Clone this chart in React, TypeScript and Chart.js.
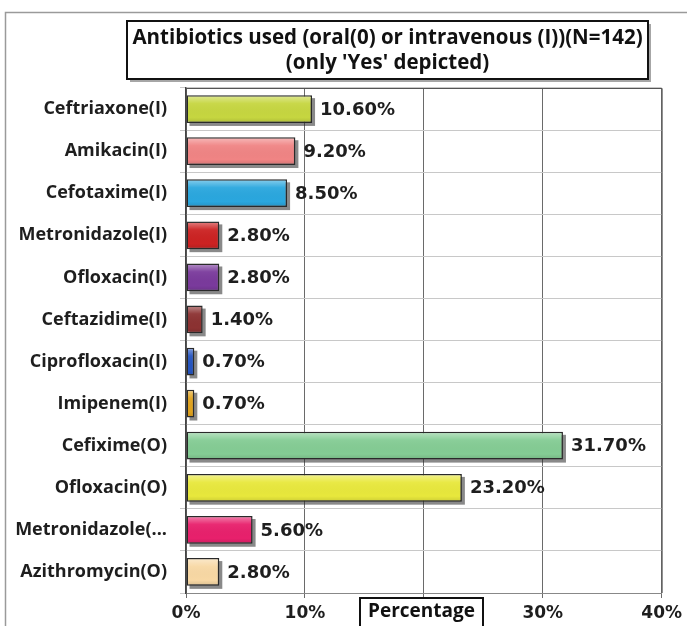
import React, { useEffect, useRef } from 'react';
import { Chart, registerables } from 'chart.js';
Chart.register(...registerables);

const categories = [
  'Ceftriaxone(I)', 'Amikacin(I)', 'Cefotaxime(I)', 'Metronidazole(I)', 'Ofloxacin(I)',
  'Ceftazidime(I)', 'Ciprofloxacin(I)', 'Imipenem(I)', 'Cefixime(O)', 'Ofloxacin(O)',
  'Metronidazole(...', 'Azithromycin(O)',
];
const percentages = [10.6, 9.2, 8.5, 2.8, 2.8, 1.4, 0.7, 0.7, 31.7, 23.2, 5.6, 2.8];
const barColors = [
  '#c6d640', '#f08484', '#2aa7de', '#cc2222', '#7a3a9c', '#8c3232',
  '#2454c0', '#e0a21c', '#84cc94', '#e8e83c', '#e8206c', '#f8d8a4',
];
const xTickValues = [0, 10, 20, 30, 40];
const titleLines = ['Antibiotics used (oral(0) or intravenous (I))(N=142)', "(only 'Yes' depicted)"];
const axisTitle = 'Percentage';

const OPEN = '"Open Sans", sans-serif';
const DEJA = '"DejaVu Sans", sans-serif';

const decorPlugin = {
  id: 'decor',
  beforeDraw(chart: any) {
    const ctx = chart.ctx;
    ctx.save();
    ctx.fillStyle = '#fff';
    ctx.fillRect(0, 0, chart.width, chart.height);
    ctx.strokeStyle = '#9a9a9a';
    ctx.lineWidth = 1.5;
    ctx.beginPath();
    ctx.moveTo(5.5, chart.height);
    ctx.lineTo(5.5, 12.5);
    ctx.lineTo(chart.width, 12.5);
    ctx.stroke();
    ctx.restore();
  },
  beforeDatasetsDraw(chart: any) {
    const ctx = chart.ctx;
    const meta = chart.getDatasetMeta(0);
    ctx.save();
    ctx.fillStyle = 'rgba(40,40,40,0.55)';
    meta.data.forEach((el: any) => {
      const p = el.getProps(['x', 'y', 'base', 'height'], true);
      ctx.fillRect(p.base + 3, p.y - p.height / 2 + 3, p.x - p.base, p.height);
    });
    ctx.restore();
  },
  afterDatasetsDraw(chart: any) {
    const ctx = chart.ctx;
    const meta = chart.getDatasetMeta(0);
    ctx.save();
    meta.data.forEach((el: any, i: number) => {
      const p = el.getProps(['x', 'y', 'base', 'height'], true);
      const top = p.y - p.height / 2;
      const g = ctx.createLinearGradient(0, top, 0, top + p.height);
      g.addColorStop(0, 'rgba(255,255,255,0.45)');
      g.addColorStop(0.3, 'rgba(255,255,255,0.05)');
      g.addColorStop(0.8, 'rgba(0,0,0,0)');
      g.addColorStop(1, 'rgba(0,0,0,0.12)');
      ctx.fillStyle = g;
      ctx.fillRect(p.base + 1.5, top + 1.5, Math.max(0, p.x - p.base - 3), p.height - 3);
      ctx.fillStyle = '#1e1e1e';
      ctx.font = `bold 18px ${DEJA}`;
      ctx.textAlign = 'left';
      ctx.textBaseline = 'middle';
      ctx.fillText(percentages[i].toFixed(2) + '%', p.x + 8, p.y + 1);
    });
    ctx.restore();
  },
  afterDraw(chart: any) {
    const ctx = chart.ctx;
    const a = chart.chartArea;
    ctx.save();
    ctx.strokeStyle = '#555';
    ctx.lineWidth = 1;
    ctx.beginPath();
    ctx.moveTo(a.left, a.top + 0.5);
    ctx.lineTo(a.right + 0.5, a.top + 0.5);
    ctx.lineTo(a.right + 0.5, a.bottom);
    ctx.stroke();

    // title box
    const bx = 127, by = 21, bw = 521, bh = 58;
    ctx.fillStyle = 'rgba(0,0,0,0.35)';
    ctx.fillRect(bx + 3, by + 3, bw, bh);
    ctx.fillStyle = '#fff';
    ctx.fillRect(bx, by, bw, bh);
    ctx.strokeStyle = '#111';
    ctx.lineWidth = 2;
    ctx.strokeRect(bx, by, bw, bh);
    ctx.fillStyle = '#111';
    ctx.font = `bold 20.5px ${OPEN}`;
    ctx.textAlign = 'center';
    ctx.textBaseline = 'middle';
    ctx.fillText(titleLines[0], bx + bw / 2, by + 17);
    ctx.fillText(titleLines[1], bx + bw / 2, by + 42);

    // axis title box
    const tx = 360, ty = 598, tw = 123, th = 34;
    ctx.fillStyle = '#fff';
    ctx.fillRect(tx, ty, tw, th);
    ctx.strokeStyle = '#111';
    ctx.lineWidth = 2;
    ctx.strokeRect(tx, ty, tw, th);
    ctx.fillStyle = '#111';
    ctx.font = `bold 19px ${OPEN}`;
    ctx.fillText(axisTitle, tx + tw / 2, ty + 14);
    ctx.restore();
  },
};

export default function App() {
  const ref = useRef<HTMLCanvasElement | null>(null);
  useEffect(() => {
    document.body.style.margin = '0';
    const chart = new Chart(ref.current as HTMLCanvasElement, {
      type: 'bar',
      data: {
        labels: categories,
        datasets: [{
          data: percentages,
          backgroundColor: barColors,
          borderColor: '#2a2a2a',
          borderWidth: 1.5,
          borderSkipped: false,
          categoryPercentage: 1,
          barPercentage: 0.66,
        }],
      },
      options: {
        indexAxis: 'y',
        animation: false,
        responsive: false,
        layout: { padding: { top: 88, right: 25, left: 0, bottom: 0 } },
        plugins: { legend: { display: false }, tooltip: { enabled: false }, title: { display: false } },
        scales: {
          x: {
            min: 0,
            max: 40,
            afterBuildTicks: (s: any) => { s.ticks = xTickValues.map((v) => ({ value: v })); },
            afterFit: (s: any) => { s.height = 33; },
            grid: { color: '#6a6a6a', lineWidth: 1, tickLength: 5, drawTicks: true },
            border: { color: '#888', width: 1 },
            ticks: {
              color: '#1e1e1e',
              padding: 5,
              font: { family: DEJA, size: 17, weight: 'bold' },
              callback: (v: any) => v + '%',
            },
          },
          y: {
            afterFit: (s: any) => { s.width = 186; },
            grid: { color: '#c8c8c8', offset: true, tickLength: 6 },
            border: { color: '#444', width: 1.5 },
            ticks: {
              color: '#1e1e1e',
              padding: 13,
              font: { family: OPEN, size: 18, weight: 'bold' },
            },
          },
        },
      },
      plugins: [decorPlugin],
    } as any);
    return () => chart.destroy();
  }, []);
  return <canvas ref={ref} width={687} height={626} style={{ display: 'block' }} />;
}
